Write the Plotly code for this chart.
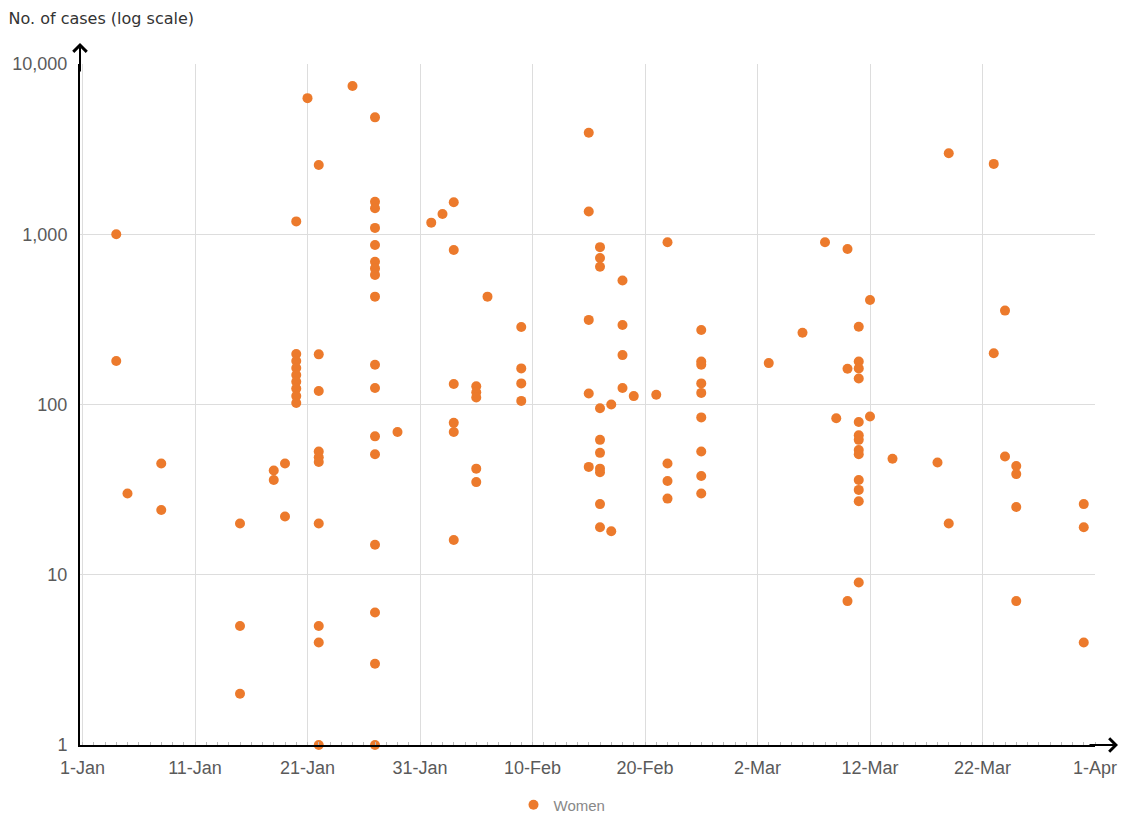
import plotly.graph_objects as go

# ---- data (one entry per point) ----
report_dates = (
    ["2019-01-04"] * 2 + ["2019-01-05"] * 1 + ["2019-01-08"] * 2 + ["2019-01-15"] * 3 +
    ["2019-01-18"] * 2 + ["2019-01-19"] * 2 + ["2019-01-20"] * 9 + ["2019-01-21"] * 1 +
    ["2019-01-22"] * 10 + ["2019-01-25"] * 1 + ["2019-01-27"] * 17 + ["2019-01-29"] * 1 +
    ["2019-02-01"] * 1 + ["2019-02-02"] * 1 + ["2019-02-03"] * 6 + ["2019-02-05"] * 5 +
    ["2019-02-06"] * 1 + ["2019-02-09"] * 4 + ["2019-02-15"] * 5 + ["2019-02-16"] * 10 +
    ["2019-02-17"] * 2 + ["2019-02-18"] * 4 + ["2019-02-19"] * 1 + ["2019-02-21"] * 1 +
    ["2019-02-22"] * 4 + ["2019-02-25"] * 9 + ["2019-03-03"] * 1 + ["2019-03-06"] * 1 +
    ["2019-03-08"] * 1 + ["2019-03-09"] * 1 + ["2019-03-10"] * 3 + ["2019-03-11"] * 13 +
    ["2019-03-12"] * 2 + ["2019-03-14"] * 1 + ["2019-03-18"] * 1 + ["2019-03-19"] * 2 +
    ["2019-03-23"] * 2 + ["2019-03-24"] * 2 + ["2019-03-25"] * 4 + ["2019-03-31"] * 3
)

cases = [
    1000, 180,                      # 4-Jan
    30,                             # 5-Jan
    45, 24,                         # 8-Jan
    20, 5, 2,                       # 15-Jan
    41, 36,                         # 18-Jan
    45, 22,                         # 19-Jan
    1190, 198, 180, 164, 149, 136, 124, 112, 102,   # 20-Jan
    6300,                           # 21-Jan
    2550, 197, 120, 53, 49, 46, 20, 5, 4, 1,         # 22-Jan
    7430,                           # 25-Jan
    4860, 1550, 1420, 1090, 865, 690, 630, 577, 430, 171, 125, 65, 51, 15, 6, 3, 1,  # 27-Jan
    69,                             # 29-Jan
    1170,                           # 1-Feb
    1315,                           # 2-Feb
    1540, 809, 132, 78, 69, 16,     # 3-Feb
    128, 118, 110, 42, 35,          # 5-Feb
    430,                            # 6-Feb
    285, 163, 133, 105,             # 9-Feb
    3950, 1360, 314, 116, 43,       # 15-Feb
    840, 726, 645, 95, 62, 52, 42, 40, 26, 19,       # 16-Feb
    100, 18,                        # 17-Feb
    535, 293, 195, 125,             # 18-Feb
    112,                            # 19-Feb
    114,                            # 21-Feb
    897, 45, 35.5, 28,              # 22-Feb
    274, 179, 171, 133, 117, 84, 53, 38, 30,         # 25-Feb
    175,                            # 3-Mar
    264,                            # 6-Mar
    897,                            # 8-Mar
    83,                             # 9-Mar
    820, 162, 7,                    # 10-Mar
    286, 179, 163, 142, 79, 66, 62, 54, 51, 36, 31.5, 27, 9,  # 11-Mar
    411, 85,                        # 12-Mar
    48,                             # 14-Mar
    45.6,                           # 18-Mar
    2990, 20,                       # 19-Mar
    2590, 200,                      # 23-Mar
    356, 49.5,                      # 24-Mar
    43.5, 39, 25, 7,                # 25-Mar
    26, 19, 4,                      # 31-Mar
]

x_tick_dates = ["2019-01-01", "2019-01-11", "2019-01-21", "2019-01-31", "2019-02-10",
                "2019-02-20", "2019-03-02", "2019-03-12", "2019-03-22", "2019-04-01"]
x_tick_labels = ["1-Jan", "11-Jan", "21-Jan", "31-Jan", "10-Feb",
                 "20-Feb", "2-Mar", "12-Mar", "22-Mar", "1-Apr"]
y_tick_vals = [1, 10, 100, 1000, 10000]
y_tick_labels = ["1", "10", "100", "1,000", "10,000"]

ORANGE = "#EC7A2C"
GRID = "#dddddd"
TICKFONT = dict(family="Liberation Sans, Arial, sans-serif", size=18, color="#5a5a5a")

W, H = 1123, 813

fig = go.Figure(
    go.Scatter(
        x=report_dates, y=cases, mode="markers", name="Women",
        marker=dict(color=ORANGE, size=10, line=dict(width=0)),
        cliponaxis=False,
    )
)

fig.update_layout(
    width=W, height=H,
    margin=dict(l=80, r=28, t=64, b=68, autoexpand=False),
    paper_bgcolor="white", plot_bgcolor="white",
    title=dict(text="No. of cases (log scale)", x=8.5 / W, xanchor="left",
               y=1 - 18 / H, yanchor="middle",
               font=dict(family="DejaVu Sans, sans-serif", size=16, color="#333333")),
    showlegend=True,
    legend=dict(orientation="h", xref="container", yref="container",
                x=562 / W, xanchor="center", y=8 / H, yanchor="middle",
                font=dict(family="Liberation Sans, Arial, sans-serif", size=15, color="#888888"),
                itemwidth=30, bgcolor="rgba(0,0,0,0)"),
)

fig.update_xaxes(
    type="date", range=["2018-12-31 18:40", "2019-04-01"],
    tickmode="array", tickvals=x_tick_dates, ticktext=x_tick_labels,
    tickfont=TICKFONT, ticks="", ticklabelstandoff=5, automargin=False,
    showgrid=True, gridcolor=GRID, gridwidth=1,
    showline=True, linecolor="black", linewidth=2, zeroline=False,
    minor=dict(tick0="2019-01-01", dtick=86400000, ticks="inside", ticklen=3,
               tickcolor="#bbbbbb", showgrid=False),
)
fig.update_yaxes(
    type="log", range=[0, 4],
    tickmode="array", tickvals=y_tick_vals, ticktext=y_tick_labels,
    tickfont=TICKFONT, ticks="", ticklabelstandoff=7, automargin=False,
    showgrid=True, gridcolor=GRID, gridwidth=1,
    showline=True, linecolor="black", linewidth=2, zeroline=False,
)

# axis arrow heads
fig.add_annotation(x=0, y=1 + 21 / 681, xref="paper", yref="paper", ax=0, ay=30,
                   text="", showarrow=True, arrowhead=4, arrowsize=1.3, arrowwidth=2,
                   arrowcolor="black")
fig.add_annotation(x=1 + 23 / 1015, y=0, xref="paper", yref="paper", ax=-30, ay=0,
                   text="", showarrow=True, arrowhead=4, arrowsize=1.3, arrowwidth=2,
                   arrowcolor="black")

# remove the default page margin so the 1123x813 figure fills the window exactly
fig.write_html("out.html",
               config={"displayModeBar": False},
               post_script="document.body.style.margin='0';document.body.style.overflow='hidden';")
